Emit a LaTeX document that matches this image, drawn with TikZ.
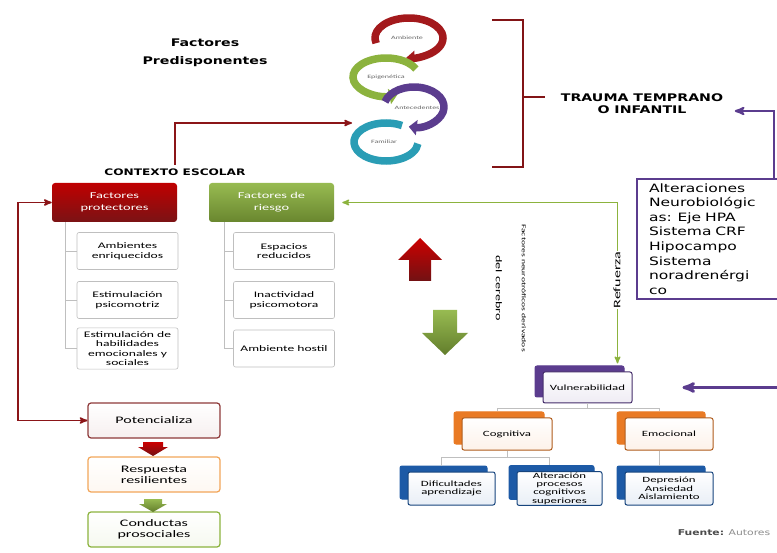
\documentclass[tikz,border=0pt]{standalone}
\usepackage{fontspec}
\setmainfont{Carlito}[FakeStretch=1.6]
\newfontfamily\headfont{DejaVu Sans}[FakeStretch=1.35]
\usetikzlibrary{arrows,arrows.meta,positioning,shadows}
\definecolor{cred}{HTML}{A3191C}
\definecolor{cgreen}{HTML}{8CB33E}
\definecolor{cpurple}{HTML}{5B3C8E}
\definecolor{cteal}{HTML}{2A9DB5}
\definecolor{corange}{HTML}{E97A24}
\definecolor{cflow}{HTML}{F2A65A}
\definecolor{cpot}{HTML}{8E3A3A}
\definecolor{cblue}{HTML}{1D5AA6}
\definecolor{cgrey}{HTML}{BFBFBF}

\begin{document}
\begin{tikzpicture}[x=1pt,y=-1pt,>=stealth',semithick,
    stackbox/.style={draw=#1!75!black,line width=1pt,rounded corners=2pt,
      top color=white,bottom color=#1!10,
      copy shadow={shadow xshift=-8pt,shadow yshift=6pt,fill=#1,draw=#1},
      align=center,inner sep=1pt,font=\fontsize{8}{8.3}\selectfont},
    flowbox/.style={draw=#1,line width=1.2pt,rounded corners=3pt,
      top color=white,bottom color=#1!8,minimum width=132pt,minimum height=35pt,
      align=center,font=\fontsize{10}{11}\selectfont}]
  \tikzstyle{head}=[font=\headfont\bfseries\fontsize{10.5}{18}\selectfont,align=center]
  \tikzstyle{cyc}=[line width=7.5pt,-{Triangle[length=8pt,width=15pt]}]
  \tikzstyle{cyclab}=[font=\fontsize{5}{5}\selectfont,text=black!60]
  \tikzstyle{topbox}=[rounded corners=3pt,minimum width=125pt,minimum height=39pt,
    text=white,align=center,font=\fontsize{9}{12}\selectfont]
  \tikzstyle{leaf}=[draw=cgrey,rounded corners=2pt,fill=white,minimum width=101pt,
    minimum height=37pt,align=center,font=\fontsize{8.5}{9.5}\selectfont]
  \tikzstyle{tree}=[draw=cgrey,thin]
  \tikzstyle{redln}=[draw=cred!85!black,line width=1.6pt]
  \tikzstyle{grnln}=[draw=cgreen,line width=1.4pt]
  \tikzstyle{purln}=[draw=cpurple,line width=2.2pt]

  \fill[white] (0,0) rectangle (777,553);
  \useasboundingbox (0,0) rectangle (777,553);

  \draw[cyc,cred] (409,38) ++(195:34pt and 20pt)
    arc[start angle=195,end angle=-95,x radius=34pt,y radius=20pt];
  \draw[cyc,cgreen] (386,77) ++(25:33pt and 19pt)
    arc[start angle=25,end angle=290,x radius=33pt,y radius=19pt];
  \draw[cyc,cpurple] (414,107) ++(165:30pt and 20pt)
    arc[start angle=165,end angle=-100,x radius=30pt,y radius=20pt];
  \draw[line width=7.5pt,cteal] (386,142) ++(60:32pt and 19pt)
    arc[start angle=60,end angle=355,x radius=32pt,y radius=19pt];
  \node[cyclab] (lamb) at (407,38) {Ambiente};
  \node[cyclab] (lepi) at (386,77) {Epigenética};
  \node[cyclab] (lant) at (417,108) {Antecedentes};
  \node[cyclab] (lfam) at (384,142) {Familiar};

  \node[head] (pred) at (205,53) {Factores\\Predisponentes};
  \node[head,font=\headfont\bfseries\fontsize{10.5}{12}\selectfont] (trauma) at (642,104)
    {TRAUMA TEMPRANO\\O INFANTIL};
  \node[head,font=\headfont\bfseries\fontsize{9}{10}\selectfont] (ctx) at (175,172)
    {CONTEXTO ESCOLAR};

  \draw[cred!80!black,line width=1.6pt] (492,20) -- (523,20) -- (523,167) -- (492,167)
    (523,97) -- (545,97);

  \coordinate (famin) at (352,123);
  \draw[redln,->] (ctx.north) |- (famin);

  \node[topbox,top color=red!75!black,bottom color=cred!75!black] (prot) at (114.5,202.5)
    {Factores\\protectores};
  \node[topbox,top color=cgreen!90!white,bottom color=cgreen!75!black] (riesgo) at (271.5,202.5)
    {Factores de\\riesgo};

  \node[leaf] (amb) at (127.5,251) {Ambientes\\enriquecidos};
  \node[leaf] (estp) at (127.5,300) {Estimulación\\psicomotriz};
  \node[leaf] (esth) at (127.5,348.5) {Estimulación de\\habilidades\\emocionales y\\sociales};
  \node[leaf] (esp) at (284,251) {Espacios\\reducidos};
  \node[leaf] (inac) at (284,300) {Inactividad\\psicomotora};
  \node[leaf] (host) at (284,348.5) {Ambiente hostil};

  \foreach \n in {amb,estp,esth}
    \draw[tree] ([xshift=13pt]prot.south west) |- (\n.west);
  \foreach \n in {esp,inac,host}
    \draw[tree] ([xshift=15pt]riesgo.south west) |- (\n.west);

  \node[flowbox=cpot] (pot) at (154,420.5) {Potencializa};
  \node[flowbox=cflow] (resp) at (154,474.5) {Respuesta\\resilientes};
  \node[flowbox=cgreen] (cond) at (154,529.5) {Conductas\\prosociales};

  \draw[redln,<->] (prot.west) -- ++(-34,0) |- (pot.west);

  \shade[top color=red!80!black,bottom color=cred!70!black]
    (143,442) -- (163,442) -- (163,447) -- (168,447) -- (153,456) -- (138,447) -- (143,447) -- cycle;
  \shade[top color=cgreen!90!white,bottom color=cgreen!70!black]
    (144,499) -- (162,499) -- (162,504) -- (167,504) -- (153,512) -- (139,504) -- (144,504) -- cycle;

  \shade[top color=red!80!black,bottom color=cred!70!black]
    (398,260) -- (420,238) -- (442,260) -- (431,260) -- (431,281) -- (409,281) -- (409,260) -- cycle;
  \shade[top color=cgreen!90!white,bottom color=cgreen!70!black]
    (433,310) -- (457,310) -- (457,333) -- (468,333) -- (445,355) -- (422,333) -- (433,333) -- cycle;

  \node[rotate=-90,align=center] (bdnf) at (511,288)
    {{\fontsize{6}{7}\selectfont Factores neurotróficos derivados}\\[14pt]
     {\fontsize{8.8}{9}\selectfont del cerebro}};

  \node[draw=cpurple,line width=2pt,fill=white,minimum width=150pt,minimum height=118pt,
    text width=126pt,align=left,inner sep=4pt,
    font=\headfont\fontsize{11.5}{14.6}\selectfont] (alt) at (712,239)
    {Alteraciones\\Neurobiológic\\as: Eje HPA\\Sistema CRF\\Hipocampo\\Sistema\\noradrenérgi\\co};
  \draw[purln,->] ([xshift=-14pt]alt.north east) |- ([xshift=8pt,yshift=-7pt]trauma.east);

  \node[stackbox=cpurple,minimum width=89pt,minimum height=31pt] (vul) at (587.5,387.5)
    {Vulnerabilidad};
  \node[stackbox=corange,minimum width=90pt,minimum height=32pt] (cog) at (507,434) {Cognitiva};
  \node[stackbox=corange,minimum width=88pt,minimum height=32pt] (emo) at (669,434) {Emocional};
  \node[stackbox=cblue,minimum width=87pt,minimum height=33pt] (dif) at (451.5,488.5)
    {Dificultades\\aprendizaje};
  \node[stackbox=cblue,minimum width=85pt,minimum height=33pt] (proc) at (559.5,488.5)
    {Alteración\\procesos\\cognitivos\\superiores};
  \node[stackbox=cblue,minimum width=88pt,minimum height=33pt] (dep) at (669,488.5)
    {Depresión\\Ansiedad\\Aislamiento};

  \draw[grnln,<->] ([xshift=8pt]riesgo.east) -| ([xshift=30pt,yshift=8pt]vul.north);
  \node[rotate=90,fill=white,inner sep=1pt,font=\fontsize{10}{10}\selectfont] (refz) at (617,280)
    {Refuerza};

  \coordinate (rin) at (777,387.5);
  \draw[purln,->,line width=3pt] (rin) -- ([xshift=50pt]vul.east);

  \draw[tree] (vul.south) -- ++(0,5) coordinate (vb) -| ([xshift=-10pt,yshift=6pt]cog.north);
  \draw[tree] (vb) -| ([xshift=-10pt,yshift=6pt]emo.north);
  \draw[tree] (cog.south) -- ++(0,7) coordinate (cb) -| ([xshift=-10pt,yshift=6pt]dif.north);
  \draw[tree] (cb) -| ([xshift=-10pt,yshift=6pt]proc.north);
  \draw[tree] ([xshift=-10pt]emo.south) -- ([xshift=-10pt,yshift=6pt]dep.north);

  \node[font=\headfont\fontsize{8}{8}\selectfont,text=black!70] (fuente) at (724,533)
    {\textbf{Fuente:} {\color{black!45}Autores}};
\end{tikzpicture}
\end{document}
